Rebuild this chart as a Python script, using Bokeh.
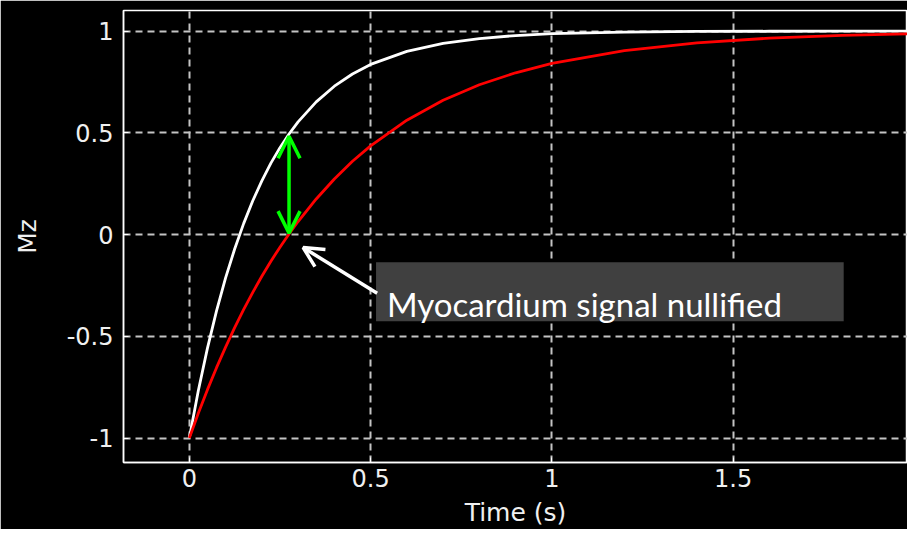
from bokeh.plotting import figure
from bokeh.models import (Range1d, FixedTicker, Arrow, OpenHead, BoxAnnotation, Label)
from bokeh.embed import file_html
from bokeh.resources import INLINE

# ---- data ----
time_s = [0, 0.025, 0.05, 0.075, 0.1, 0.125, 0.15, 0.175, 0.2, 0.225, 0.25, 0.275,
          0.3, 0.35, 0.4, 0.45, 0.5, 0.6, 0.7, 0.8, 0.9, 1.0, 1.2, 1.4, 1.6, 1.8, 2.0]
mz_blood = [-1.0, -0.765, -0.558, -0.375, -0.213, -0.071, 0.055, 0.166, 0.264, 0.351,
            0.427, 0.494, 0.554, 0.652, 0.729, 0.789, 0.836, 0.900, 0.940, 0.963,
            0.978, 0.987, 0.995, 0.998, 0.999, 1.0, 1.0]
mz_myocardium = [-1.0, -0.877, -0.762, -0.654, -0.553, -0.457, -0.368, -0.284, -0.205,
                 -0.131, -0.062, 0.003, 0.064, 0.175, 0.273, 0.360, 0.436, 0.562, 0.660,
                 0.736, 0.795, 0.841, 0.904, 0.942, 0.965, 0.979, 0.987]
x_ticks = [0, 0.5, 1, 1.5]
y_ticks = [-1, -0.5, 0, 0.5, 1]
y_tick_labels = {-1: "-1", -0.5: "-0.5", 0: "0", 0.5: "0.5", 1: "1"}
annotation_text = "Myocardium signal nullified"
null_time = 0.275

p = figure(width=907, height=529, output_backend="svg", toolbar_location=None,
           x_range=Range1d(-0.1816, 1.981), y_range=Range1d(-1.120, 1.101))
p.min_border_left = 123
p.min_border_right = 0
p.min_border_top = 10
p.min_border_bottom = 66
p.background_fill_color = "black"
p.border_fill_color = "black"
p.outline_line_color = "white"
p.outline_line_width = 1.5

for ax in (p.xaxis, p.yaxis):
    ax.axis_line_color = "white"
    ax.axis_line_width = 1.5
    ax.major_tick_line_color = "white"
    ax.major_tick_in = 5
    ax.major_tick_out = 0
    ax.minor_tick_line_color = None
    ax.major_label_text_color = "#f0f0f0"
    ax.major_label_text_font = "DejaVu Sans"
    ax.major_label_text_font_size = "24px"
    ax.axis_label_text_color = "#f0f0f0"
    ax.axis_label_text_font = "DejaVu Sans"
    ax.axis_label_text_font_size = "25px"
    ax.axis_label_text_font_style = "normal"

p.xaxis.ticker = FixedTicker(ticks=x_ticks)
p.yaxis.ticker = FixedTicker(ticks=y_ticks)
p.yaxis.major_label_overrides = y_tick_labels
p.xaxis.axis_label = "Time (s)"
p.yaxis.axis_label = "Mz"
p.xaxis.major_label_standoff = 6
p.xaxis.axis_label_standoff = 8
p.yaxis.major_label_standoff = 10
p.yaxis.axis_label_standoff = 22

for g in (p.xgrid, p.ygrid):
    g.grid_line_color = "#c4c4c4"
    g.grid_line_width = 2
    g.grid_line_dash = "7 5"
p.xgrid.ticker = FixedTicker(ticks=x_ticks)
p.ygrid.ticker = FixedTicker(ticks=y_ticks)

p.line(time_s, mz_blood, line_color="white", line_width=2.8)
p.line(time_s, mz_myocardium, line_color="#ff0000", line_width=2.8)

box = BoxAnnotation(left=0.515, right=1.805, top=-0.136, bottom=-0.426,
                    fill_color="#404040", fill_alpha=1.0, line_color=None)
p.add_layout(box)
p.add_layout(Label(x=0.545, y=-0.339, text=annotation_text, text_color="white",
                   text_font="Lato", text_font_size="33px",
                   text_baseline="alphabetic", text_align="left"))

p.add_layout(Arrow(x_start=null_time, y_start=0.007, x_end=null_time, y_end=0.483,
                   line_color="#00ff00", line_width=3.5,
                   start=OpenHead(size=22, line_color="#00ff00", line_width=3.5),
                   end=OpenHead(size=22, line_color="#00ff00", line_width=3.5)))
p.add_layout(Arrow(x_start=0.518, y_start=-0.288, x_end=0.314, y_end=-0.064,
                   line_color="white", line_width=3.5,
                   end=OpenHead(size=20, line_color="white", line_width=3.5)))

open("out.html", "w").write(file_html(p, INLINE))
